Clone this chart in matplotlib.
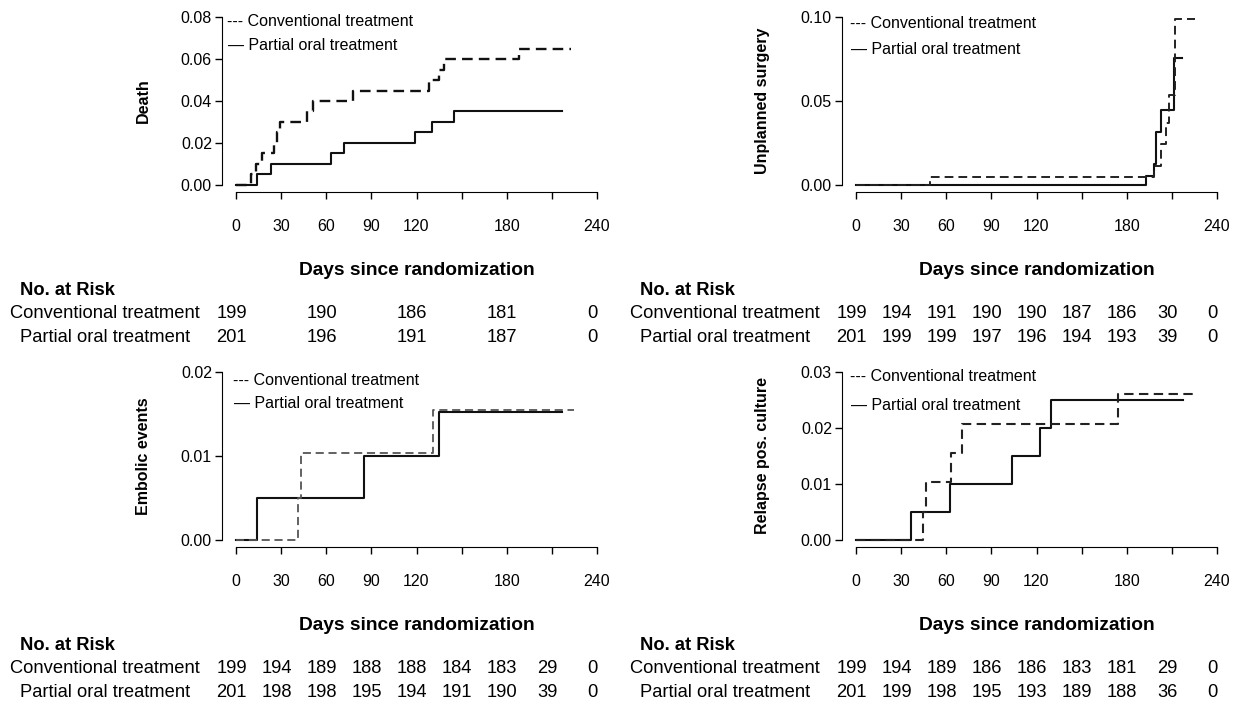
import matplotlib
matplotlib.use("Agg")
import matplotlib.pyplot as plt
import matplotlib.transforms as mtransforms

plt.rcParams['font.family'] = ['Liberation Sans', 'DejaVu Sans']
FS = 11.5     # ticks, legend, numbers
FS_TAB = 13.2  # risk-table labels
FS_DAYS = 13.8

W, H = 1244, 709

# ---- data ----
death_conv_t = [0, 10, 13, 17, 25, 27, 29, 47, 51, 78, 128, 135, 138, 188, 223]
death_conv_y = [0, 0.005, 0.010, 0.015, 0.020, 0.025, 0.030, 0.035, 0.040, 0.045,
                0.050, 0.055, 0.060, 0.065, 0.065]
death_part_t = [0, 14, 23, 63, 72, 119, 130, 145, 217]
death_part_y = [0, 0.005, 0.010, 0.015, 0.020, 0.025, 0.030, 0.035, 0.035]

surg_conv_t = [0, 49, 198, 203, 206, 208, 212, 225.5]
surg_conv_y = [0, 0.005, 0.0115, 0.0243, 0.0367, 0.0538, 0.099, 0.099]
surg_part_t = [0, 193, 198, 199.5, 202.5, 211.5, 217]
surg_part_y = [0, 0.0055, 0.0125, 0.0313, 0.0444, 0.0754, 0.0754]

emb_conv_t = [0, 41, 43, 131, 225]
emb_conv_y = [0, 0.005, 0.0103, 0.0155, 0.0155]
emb_part_t = [0, 14, 85, 135, 217]
emb_part_y = [0, 0.005, 0.010, 0.0152, 0.0152]

rel_conv_t = [0, 44.4, 46.6, 63, 70.3, 174.5, 225.5]
rel_conv_y = [0, 0.005, 0.0103, 0.0155, 0.0207, 0.0261, 0.0261]
rel_part_t = [0, 36.4, 62.5, 103.6, 122, 129.6, 217.4]
rel_part_y = [0, 0.005, 0.010, 0.015, 0.020, 0.025, 0.025]

risk_days_5 = [0, 60, 120, 180, 240]
risk_days_9 = [0, 30, 60, 90, 120, 150, 180, 210, 240]

death_risk_conv = [199, 190, 186, 181, 0]
death_risk_part = [201, 196, 191, 187, 0]
surg_risk_conv = [199, 194, 191, 190, 190, 187, 186, 30, 0]
surg_risk_part = [201, 199, 199, 197, 196, 194, 193, 39, 0]
emb_risk_conv = [199, 194, 189, 188, 188, 184, 183, 29, 0]
emb_risk_part = [201, 198, 198, 195, 194, 191, 190, 39, 0]
rel_risk_conv = [199, 194, 189, 186, 186, 183, 181, 29, 0]
rel_risk_part = [201, 199, 198, 195, 193, 189, 188, 36, 0]

x_ticks = [0, 30, 60, 90, 120, 150, 180, 210, 240]
x_labels = ['0', '30', '60', '90', '120', '', '180', '', '240']

fig = plt.figure(figsize=(W / 100, H / 100), dpi=100)


def fx(px):
    return px / W


def fy(py):
    return 1 - py / H


panels = [
    dict(left=221.6, top=10.3, ylab='Death', ymax=0.08,
         yticks=[0, 0.02, 0.04, 0.06, 0.08],
         conv=(death_conv_t, death_conv_y), part=(death_part_t, death_part_y),
         rdays=risk_days_5, rconv=death_risk_conv, rpart=death_risk_part,
         leg=(227, 21, 45), ylab_x=143, conv_col='#111111', conv_lw=1.7),
    dict(left=841.6, top=10.3, ylab='Unplanned surgery', ymax=0.10,
         yticks=[0, 0.05, 0.10],
         conv=(surg_conv_t, surg_conv_y), part=(surg_part_t, surg_part_y),
         rdays=risk_days_9, rconv=surg_risk_conv, rpart=surg_risk_part,
         leg=(850, 24, 50), ylab_x=763, conv_col='#222222', conv_lw=1.4),
    dict(left=221.6, top=365.3, ylab='Embolic events', ymax=0.02,
         yticks=[0, 0.01, 0.02],
         conv=(emb_conv_t, emb_conv_y), part=(emb_part_t, emb_part_y),
         rdays=risk_days_9, rconv=emb_risk_conv, rpart=emb_risk_part,
         leg=(233, 380, 404), ylab_x=143, conv_col='#555555', conv_lw=1.3),
    dict(left=841.6, top=365.3, ylab='Relapse pos. culture', ymax=0.03,
         yticks=[0, 0.01, 0.02, 0.03],
         conv=(rel_conv_t, rel_conv_y), part=(rel_part_t, rel_part_y),
         rdays=risk_days_9, rconv=rel_risk_conv, rpart=rel_risk_part,
         leg=(850, 377, 405), ylab_x=763, conv_col='#222222', conv_lw=1.5),
]

AX_W, AX_H = 389.8, 181.4

for p in panels:
    ax = fig.add_axes([fx(p['left']), fy(p['top'] + AX_H), AX_W / W, AX_H / H])
    pad_y = p['ymax'] * 0.04
    ax.set_xlim(-9.6, 249.6)
    ax.set_ylim(-pad_y, p['ymax'] + pad_y)

    ct, cy = p['conv']
    pt, py = p['part']
    ax.step(pt, py, where='post', color='#111111', lw=1.5)
    ax.step(ct, cy, where='post', color=p['conv_col'], lw=p['conv_lw'],
            linestyle=(0, (4.5, 2.6)))

    for s in ['top', 'right']:
        ax.spines[s].set_visible(False)
    ax.spines['left'].set_bounds(0, p['ymax'])
    ax.spines['bottom'].set_bounds(0, 240)
    ax.set_xticks(x_ticks)
    ax.set_xticklabels(x_labels)
    ax.set_yticks(p['yticks'])
    ax.set_yticklabels(['%.2f' % v for v in p['yticks']])
    ax.tick_params(axis='x', length=5, width=1, pad=14.4, labelsize=FS)
    ax.tick_params(axis='y', length=5, width=1, pad=2, labelsize=FS)
    ax.patch.set_alpha(0)

    # y label
    mid = p['top'] + AX_H / 2
    fig.text(fx(p['ylab_x']), fy(mid), p['ylab'], rotation=90, ha='center',
             va='center', fontsize=FS, fontweight='bold')

    # legend as text
    lx, ly1, ly2 = p['leg']
    fig.text(fx(lx), fy(ly1), '--- Conventional treatment', ha='left',
             va='center', fontsize=FS)
    fig.text(fx(lx + 1), fy(ly2), '\u2014 Partial oral treatment', ha='left',
             va='center', fontsize=FS)

    # risk table
    base = p['top'] + 260
    centre_x = p['left'] + 14.4 + 361 / 2
    fig.text(fx(centre_x), fy(base), 'Days since randomization', ha='center',
             va='center', fontsize=FS_DAYS, fontweight='bold')
    lab_left = 20 if p['left'] < 600 else 640
    lab_centre = 105 if p['left'] < 600 else 725
    fig.text(fx(lab_left), fy(base + 20), 'No. at Risk', ha='left',
             va='center', fontsize=FS_TAB, fontweight='bold')
    fig.text(fx(lab_centre), fy(base + 43), 'Conventional treatment',
             ha='center', va='center', fontsize=FS_TAB)
    fig.text(fx(lab_centre), fy(base + 67), 'Partial oral treatment',
             ha='center', va='center', fontsize=FS_TAB)
    trans = mtransforms.blended_transform_factory(ax.transData, fig.transFigure)
    for d, c, q in zip(p['rdays'], p['rconv'], p['rpart']):
        ax.text(d - 3, fy(base + 43), str(c), transform=trans, ha='center',
                va='center', fontsize=FS_TAB, clip_on=False)
        ax.text(d - 3, fy(base + 67), str(q), transform=trans, ha='center',
                va='center', fontsize=FS_TAB, clip_on=False)

fig.savefig('out.png', dpi=100)
